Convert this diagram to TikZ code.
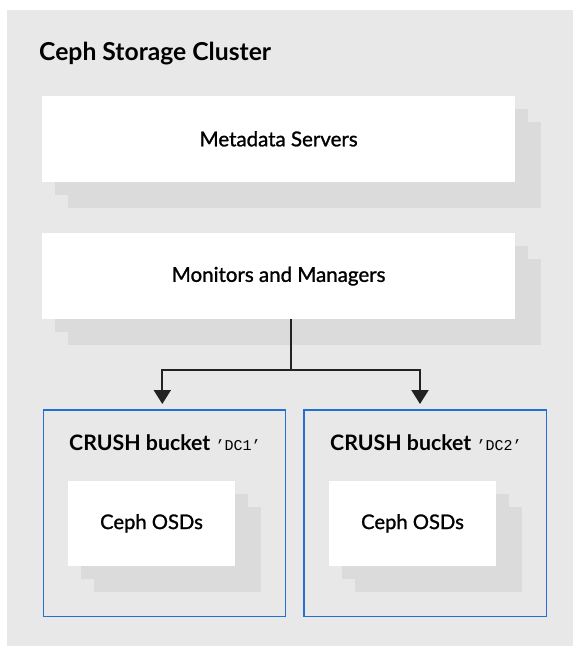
\documentclass[tikz,border=0pt]{standalone}
\usepackage{fontspec}
\setmainfont{Lato}
\setmonofont{Liberation Mono}
\newfontfamily\medfont{Lato}[FakeBold=1.2]
\usetikzlibrary{arrows.meta,backgrounds,calc}
\definecolor{bggray}{RGB}{232,232,232}
\definecolor{shadegray}{RGB}{219,219,219}
\definecolor{rhblue}{RGB}{35,112,212}
\definecolor{linecol}{RGB}{34,34,34}
\begin{document}
\begin{tikzpicture}[x=1pt,y=-1pt,
  bigbox/.style={fill=white,draw=none,minimum width=472.7pt,minimum height=85.7pt,inner sep=0pt,
    font=\medfont\fontsize{20.5}{24}\selectfont},
  smallbox/.style={fill=white,draw=none,minimum width=166.4pt,minimum height=85.3pt,inner sep=0pt,
    font=\medfont\fontsize{20.2}{24}\selectfont},
  bucket/.style={draw=rhblue,line width=1.5pt,minimum width=242.4pt,minimum height=206.7pt,inner sep=0pt},
  buckettitle/.style={anchor=west,inner sep=0pt,font=\bfseries\fontsize{21.3}{25}\selectfont},
  shade/.style={fill=shadegray},
  conn/.style={draw=linecol,line width=2pt},
  arr/.style={conn,-{Triangle[width=17pt,length=14pt]},shorten >=6pt}
]
\useasboundingbox (0,0) rectangle (573,646);
% nodes
\node[anchor=west,inner sep=0pt,font=\bfseries\fontsize{24.7}{28}\selectfont] (title) at (39,53.5) {Ceph Storage Cluster};
\node[bigbox] (mds) at (278.65,138.85) {Metadata Servers};
\node[bigbox] (mon) at (278.65,276.15) {Monitors and Managers};
\node[bucket] (b1) at (164.5,513.35) {};
\node[bucket] (b2) at (425.15,513.35) {};
\node[buckettitle] (t1) at (69,443) {CRUSH bucket \mdseries\ttfamily\fontsize{15}{20}\selectfont ’DC1’};
\node[buckettitle] (t2) at (330,443) {CRUSH bucket \mdseries\ttfamily\fontsize{15}{20}\selectfont ’DC2’};
\node[smallbox] (osd1) at (151.5,523.35) {Ceph OSDs};
\node[smallbox] (osd2) at (412.5,523.35) {Ceph OSDs};
% background and shadows
\begin{pgfonlayer}{background}
  \fill[bggray] (7,10) rectangle (573,646);
  \foreach \n in {mds,mon,osd1,osd2}{
    \fill[shade] ($(\n.south west)+(26,26)$) rectangle ($(\n.north east)+(26,26)$);
    \fill[shade] ($(\n.south west)+(13,13)$) rectangle ($(\n.north east)+(13,13)$);
  }
\end{pgfonlayer}
% connectors
\coordinate (split) at (291,370);
\coordinate (d1) at (162.3,410);
\coordinate (d2) at (420,410);
\draw[conn] (mon.south -| split) -- (split);
\draw[arr] (split) -| (d1);
\draw[arr] (split) -| (d2);
\end{tikzpicture}
\end{document}
